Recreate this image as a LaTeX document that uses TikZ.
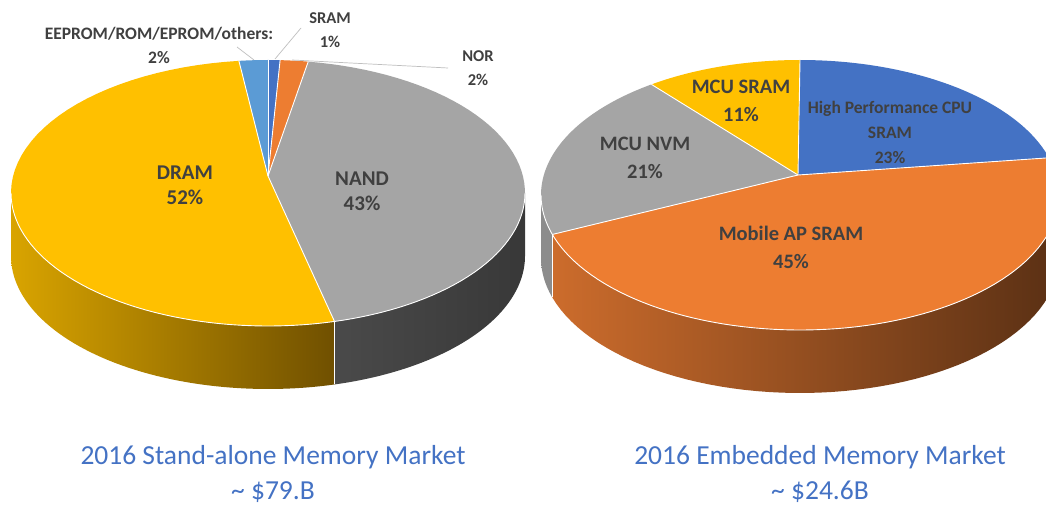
\documentclass[tikz,border=0pt]{standalone}
\usepackage{fontspec}
\setmainfont{Carlito}
\definecolor{cblue}{HTML}{4472C4}
\definecolor{corange}{HTML}{ED7D31}
\definecolor{cgray}{HTML}{A5A5A5}
\definecolor{cgold}{HTML}{FFC000}
\definecolor{clblue}{HTML}{5B9BD5}
\definecolor{ctext}{HTML}{404040}
\definecolor{cleader}{HTML}{BFBFBF}
\definecolor{goldL}{HTML}{D9A400}
\definecolor{goldD}{HTML}{705000}
\definecolor{orL}{HTML}{CC6C2C}
\definecolor{orD}{HTML}{5A3014}
\definecolor{grL}{HTML}{4A4A4A}
\definecolor{grD}{HTML}{383838}
\definecolor{nvmside}{HTML}{8C8C8C}
\newcommand\setpie[7]{\def\CX{#1}\def\CY{#2}\def\RX{#3}\def\RY{#4}\def\AX{#5}\def\AY{#6}\def\DD{#7}}
\newcommand\topslice[3]{\fill[#3] (\AX,\AY) -- plot[domain=#1:#2,samples=60] ({\CX+\RX*cos(\x)},{\CY-\RY*sin(\x)}) -- cycle;}
\newcommand\sideslice[3]{\shade[#3] plot[domain=#1:#2,samples=60] ({\CX+\RX*cos(\x)},{\CY-\RY*sin(\x)}) -- plot[domain=#1:#2,samples=60] ({\CX+\RX*cos(#1+#2-\x)},{\CY-\RY*sin(#1+#2-\x)+\DD}) -- cycle;}
\newcommand\sepline[1]{\draw[sep] (\AX,\AY) -- ({\CX+\RX*cos(#1)},{\CY-\RY*sin(#1)});}
\newcommand\sidesep[1]{\draw[sep] ({\CX+\RX*cos(#1)},{\CY-\RY*sin(#1)}) -- ++(0,\DD);}
\newcommand\frontedge{\draw[sep] plot[domain=180:360,samples=80] ({\CX+\RX*cos(\x)},{\CY-\RY*sin(\x)});}
\begin{document}
\begin{tikzpicture}[x=1pt,y=-1pt,
  sep/.style={white,line width=0.9pt},
  lbl/.style={text=ctext,font=\bfseries\fontsize{21}{25}\selectfont,align=center,inner sep=0pt},
  lblm/.style={text=ctext,font=\bfseries\fontsize{20.5}{28}\selectfont,align=center,inner sep=0pt},
  lbls/.style={text=ctext,font=\bfseries\fontsize{16.5}{24}\selectfont,align=center,inner sep=0pt},
  lble/.style={text=ctext,font=\bfseries\fontsize{17.5}{24}\selectfont,align=center,inner sep=0pt},
  lblh/.style={text=ctext,font=\bfseries\fontsize{17.5}{25}\selectfont,align=center,inner sep=0pt},
  ttl/.style={text=cblue,font=\fontsize{27.5}{35}\selectfont,align=center,inner sep=0pt},
  leader/.style={cleader,line width=0.7pt}]
\useasboundingbox (0,0) rectangle (1046,505);
\clip (0,0) rectangle (1046,505);
\fill[white] (0,0) rectangle (1046,505);

% ---------- left pie ----------
\setpie{268}{193}{257}{133}{268}{176}{63}
\sideslice{180}{285}{left color=goldL,right color=goldD}
\sideslice{285}{360}{left color=grL,right color=grD}
\topslice{-75}{81}{cgray}
\topslice{81}{87.3}{corange}
\topslice{87.3}{90}{cblue}
\topslice{90}{96.5}{clblue}
\topslice{96.5}{285}{cgold}
\sepline{81}\sepline{87.3}\sepline{90}\sepline{96.5}\sepline{285}
\frontedge
\sidesep{285}

% ---------- right pie ----------
\setpie{800}{195}{259}{135}{798}{175}{63}
\sideslice{180}{197}{left color=nvmside,right color=nvmside}
\sideslice{197}{360}{left color=orL,right color=orD}
\topslice{16}{90}{cblue}
\topslice{-163}{16}{corange}
\topslice{125}{197}{cgray}
\topslice{90}{125}{cgold}
\sepline{16}\sepline{90}\sepline{125}\sepline{197}
\frontedge
\sidesep{197}

% ---------- labels ----------
\node[lble] (eeprom) at (159,45) {EEPROM/ROM/EPROM/others:\\2\%};
\node[lbls] (sram) at (330,30) {SRAM\\1\%};
\node[lbls] (nor) at (478,68) {NOR\\2\%};
\node[lbl] (dram) at (185,185) {DRAM\\52\%};
\node[lbl] (nand) at (362,191) {NAND\\43\%};

\node[lblm] (mcusram) at (741,101) {MCU SRAM\\11\%};
\node[lblh] (hpcpu) at (890,132) {High Performance CPU\\SRAM\\23\%};
\node[lblm] (mcunvm) at (645,158) {MCU NVM\\21\%};
\node[lblm] (mobile) at (791,247) {Mobile AP SRAM\\45\%};

% leader lines
\coordinate (e1) at (237,47); \coordinate (e2) at (254,60);
\coordinate (s1) at (301,28); \coordinate (s2) at (275,59);
\coordinate (n1) at (448,68); \coordinate (n2) at (292,60);
\draw[leader] (e1) -- (e2);
\draw[leader] (s1) -- (s2);
\draw[leader] (n1) -- (n2);

% titles
\node[ttl] (t1) at (273,474) {2016 Stand-alone Memory Market\\\char`~\ \$79.B};
\node[ttl] (t2) at (820,474) {2016 Embedded Memory Market\\\char`~\ \$24.6B};
\end{tikzpicture}
\end{document}
